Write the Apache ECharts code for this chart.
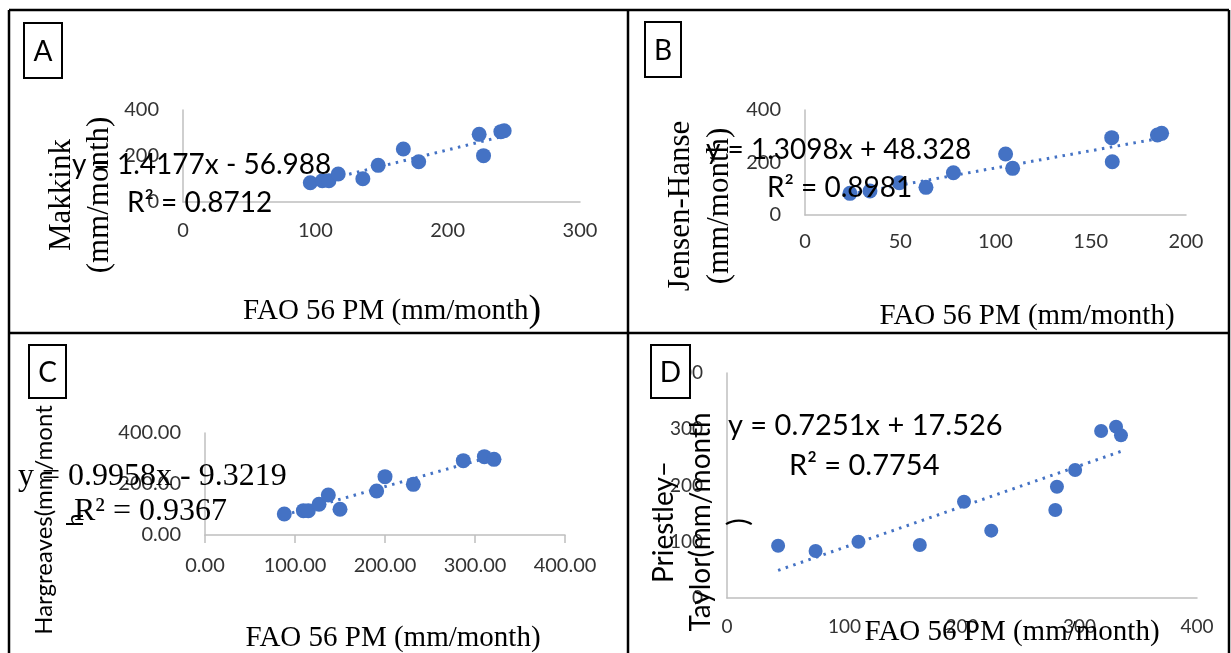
<!DOCTYPE html>
<html>
<head>
<meta charset="utf-8">
<script src="https://cdn.jsdelivr.net/npm/echarts@6/dist/echarts.min.js"></script>
<style>
html,body{margin:0;padding:0;background:#fff;}
#c{width:1231px;height:653px;}
</style>
</head>
<body>
<div id="c"></div>
<script>
// ---------- DATA ----------
// Panel A: Makkink vs FAO 56 PM
const aX = [96.2, 105.3, 110.3, 117.3, 135.9, 147.5, 166.5, 178.1, 223.8, 227.1, 240.2, 242.7];
const aY = [84, 92.6, 92.6, 121.7, 101, 159.4, 230.4, 175.3, 294.2, 201.4, 305.8, 310];
const aFit = [1.4177, -56.988];
const aXTicks = [0, 100, 200, 300];
const aYTicks = [0, 200, 400];

// Panel B: Jensen-Haise vs FAO 56 PM
const bX = [23.6, 34.1, 49.5, 63.5, 77.9, 105.3, 109, 161, 161.3, 185, 187.2];
const bY = [82.5, 91.4, 123, 105.4, 161, 232.4, 177.8, 294.6, 203, 304.8, 311];
const bFit = [1.3098, 48.328];
const bXTicks = [0, 50, 100, 150, 200];
const bYTicks = [0, 200, 400];

// Panel C: Hargreaves vs FAO 56 PM
const cX = [88.1, 109.3, 114.8, 126.7, 137, 150, 190.7, 200, 231.5, 287, 310.4, 321.1];
const cY = [82.4, 95.4, 95.4, 120.4, 156.9, 100.7, 172.5, 228.8, 198.7, 291.5, 307.2, 296.7];
const cFit = [0.9958, -9.3219];
const cXTicks = [0, 100, 200, 300, 400];
const cYTicks = [0, 200, 400];

// Panel D: Priestley-Taylor vs FAO 56 PM
const dX = [43.5, 75.4, 111.9, 164.1, 201.7, 224.9, 279.4, 280.8, 296.3, 318.4, 331.1, 335.3];
const dY = [93, 83.6, 100, 94.2, 171.2, 119.7, 156.4, 197.9, 227.6, 296.9, 304.6, 289.2];
const dFit = [0.7251, 17.526];
const dXTicks = [0, 100, 200, 300, 400];
const dYTicks = [0, 100, 200, 300, 400];

// Texts
const panelLetters = ['A', 'B', 'C', 'D'];
const xTitle = 'FAO 56 PM (mm/month)';
const yTitleA = 'Makkink\n(mm/month)';
const yTitleB = 'Jensen-Hanse\n(mm/month)';
const yTitleC = 'Hargreaves(mm/mont\nh';
const yTitleD = 'Priestley–\nTaylor(mm/month\n)';
const eqA = ['y = 1.4177x - 56.988', 'R² = 0.8712'];
const eqB = ['y = 1.3098x + 48.328', 'R² = 0.8981'];
const eqC = ['y = 0.9958x - 9.3219', 'R² = 0.9367'];
const eqD = ['y = 0.7251x + 17.526', 'R² = 0.7754'];

// ---------- CHART ----------
const BLUE = '#4472C4';
const AXIS = '#bfbfbf';
const SANS = 'Lato, "Open Sans", sans-serif';
const SERIF = '"Liberation Serif", "DejaVu Serif", serif';

function pairs(xs, ys) { return xs.map((x, i) => [x, ys[i]]); }
function trend(xs, fit) {
  const lo = Math.min.apply(null, xs), hi = Math.max.apply(null, xs);
  return [[lo, fit[0] * lo + fit[1]], [hi, fit[0] * hi + fit[1]]];
}

const grids = [
  {left: 183, top: 110, width: 397, height: 92},
  {left: 805, top: 110, width: 381, height: 105},
  {left: 205, top: 433, width: 360, height: 102},
  {left: 727, top: 373, width: 470, height: 225}
];
const xTicksAll = [aXTicks, bXTicks, cXTicks, dXTicks];
const yTicksAll = [aYTicks, bYTicks, cYTicks, dYTicks];
const xMargins = [19, 17, 21, 19];
const labelSizes = [20, 20, 20, 19];

const xAxes = xTicksAll.map((t, i) => ({
  type: 'value', gridIndex: i,
  min: t[0], max: t[t.length - 1], interval: t[1] - t[0],
  axisLine: {show: true, lineStyle: {color: AXIS, width: 1.5}},
  axisTick: {show: i === 2, length: 8, lineStyle: {color: AXIS, width: 1.5}},
  splitLine: {show: false},
  axisLabel: {
    show: true, margin: xMargins[i], color: '#333', fontFamily: SANS, fontSize: labelSizes[i],
    showMinLabel: true, showMaxLabel: true,
    formatter: i === 2 ? (v) => v.toFixed(2) : (v) => String(v)
  }
}));
const yAxes = yTicksAll.map((t, i) => ({
  type: 'value', gridIndex: i,
  min: t[0], max: t[t.length - 1], interval: t[1] - t[0],
  axisLine: {show: true, lineStyle: {color: AXIS, width: 1.5}},
  axisTick: {show: false},
  splitLine: {show: false},
  axisLabel: {
    show: true, margin: 24, color: '#333', fontFamily: SANS, fontSize: labelSizes[i],
    showMinLabel: true, showMaxLabel: true,
    formatter: i === 2 ? (v) => v.toFixed(2) : (v) => String(v)
  }
}));

const xsAll = [aX, bX, cX, dX];
const ysAll = [aY, bY, cY, dY];
const fits = [aFit, bFit, cFit, dFit];
const sizes = [15, 15, 15, 14];
const series = [];
for (let i = 0; i < 4; i++) {
  series.push({
    type: 'line', xAxisIndex: i, yAxisIndex: i,
    data: trend(xsAll[i], fits[i]), showSymbol: false, symbol: 'none', silent: true,
    lineStyle: {color: BLUE, width: 3, type: [2.5, 5.5]}, z: 2
  });
  series.push({
    type: 'scatter', xAxisIndex: i, yAxisIndex: i,
    data: pairs(xsAll[i], ysAll[i]), symbolSize: sizes[i],
    itemStyle: {color: BLUE, opacity: 1}, z: 3
  });
}

function txt(x, y, text, font, opts) {
  opts = opts || {};
  return {
    type: 'text', x: x, y: y, rotation: opts.rotation || 0, z: opts.z || 50,
    style: Object.assign({
      text: text, font: font, fill: '#000',
      textAlign: opts.align || 'left', textVerticalAlign: 'middle', verticalAlign: 'middle',
      lineHeight: opts.lineHeight
    }, opts.style || {})
  };
}
function line(x1, y1, x2, y2) {
  return {type: 'line', z: 60, shape: {x1: x1, y1: y1, x2: x2, y2: y2},
    style: {stroke: '#000', lineWidth: 2.5}};
}
function box(x, y, w, h, letter) {
  return [
    {type: 'rect', z: 80, shape: {x: x, y: y, width: w, height: h},
      style: {fill: '#fff', stroke: '#000', lineWidth: 2}},
    txt(x + w / 2, y + h / 2 + 1, letter, '28px ' + SANS, {align: 'center', z: 81})
  ];
}

const graphics = [
  // panel frames
  line(9, 10, 1229, 10),
  line(9, 10, 9, 653),
  line(1229, 10, 1229, 653),
  line(628, 10, 628, 653),
  line(9, 333, 1229, 333),
  // letters
  ...box(24, 23, 38, 55, panelLetters[0]),
  ...box(645, 22, 36, 55, panelLetters[1]),
  ...box(29, 345, 37, 53, panelLetters[2]),
  ...box(651, 345, 39, 53, panelLetters[3]),
  // y titles
  txt(81, 195, yTitleA, '31px ' + SERIF, {align: 'center', rotation: Math.PI / 2, lineHeight: 38}),
  txt(700, 206, yTitleB, '31px ' + SERIF, {align: 'center', rotation: Math.PI / 2, lineHeight: 39}),
  txt(60, 520, yTitleC, '24px ' + SANS, {align: 'center', rotation: Math.PI / 2, lineHeight: 31}),
  txt(701, 522, yTitleD, '28px ' + SANS, {align: 'center', rotation: Math.PI / 2, lineHeight: 37.5}),
  // x titles
  {
    type: 'text', x: 243, y: 311, z: 50,
    style: {
      text: '{a|FAO 56 PM (mm/month}{b|)}', textAlign: 'left', textVerticalAlign: 'middle', verticalAlign: 'middle',
      rich: {
        a: {font: '29px ' + SERIF, fill: '#000'},
        b: {font: '38px ' + SERIF, fill: '#000'}
      }
    }
  },
  txt(1027, 316, xTitle, '29px ' + SERIF, {align: 'center'}),
  txt(393, 638, xTitle, '29px ' + SERIF, {align: 'center'}),
  txt(1012, 632, xTitle, '29px ' + SERIF, {align: 'center'}),
  // equations
  txt(72, 165, eqA[0], '28px ' + SANS),
  txt(127, 203, eqA[1], '28px ' + SANS),
  txt(706, 150, eqB[0], '28px ' + SANS),
  txt(767, 188, eqB[1], '28px ' + SANS),
  txt(18, 477, eqC[0], '32px ' + SERIF),
  txt(74, 512, eqC[1], '32px ' + SERIF),
  txt(728, 426, eqD[0], '29px ' + SANS),
  txt(789, 466, eqD[1], '29px ' + SANS)
];

const chart = echarts.init(document.getElementById('c'));
chart.setOption({
  animation: false,
  backgroundColor: '#fff',
  grid: grids.map(g => Object.assign({containLabel: false}, g)),
  xAxis: xAxes,
  yAxis: yAxes,
  series: series,
  graphic: {elements: graphics}
});
</script>
</body>
</html>
